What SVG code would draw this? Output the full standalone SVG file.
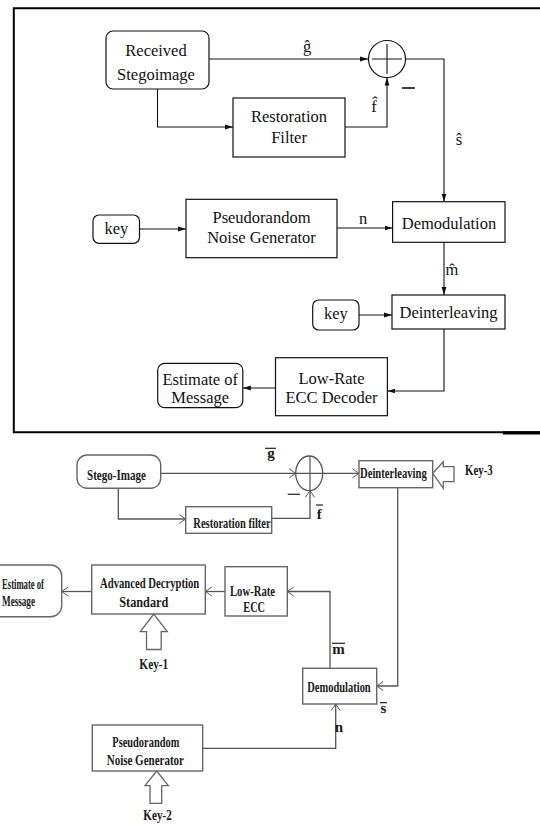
<svg xmlns="http://www.w3.org/2000/svg" width="540" height="825" viewBox="0 0 540 825">
<style>
.t{font-family:"Liberation Serif","Times New Roman",serif;font-size:16.5px;fill:#111;text-anchor:middle}
.tb{font-family:"Liberation Serif","Times New Roman",serif;font-size:15px;font-weight:bold;fill:#1a1a1a}
.bx{fill:#fff;stroke:#111;stroke-width:1.2}
.bx2{fill:#fff;stroke:#666;stroke-width:1.4}
.ln{fill:none;stroke:#111;stroke-width:1.1}
.ln2{fill:none;stroke:#555;stroke-width:1.3}
.ov{stroke:#222;stroke-width:1.2}
</style>
<defs>
<marker id="tri" markerWidth="8" markerHeight="6" refX="8" refY="3" orient="auto" markerUnits="userSpaceOnUse"><path d="M0,0.6 L8,3 L0,5.4 z" fill="#111"/></marker>
<marker id="chev" markerWidth="8" markerHeight="10" refX="7" refY="5" orient="auto" markerUnits="userSpaceOnUse" overflow="visible"><path d="M0.5,0.5 L7,5 L0.5,9.5" fill="none" stroke="#555" stroke-width="1"/></marker>
</defs>
<rect width="540" height="825" fill="#fff"/>

<!-- frame -->
<g id="frame">
<path d="M540,8.3 H13.8 V432.3 H540" fill="none" stroke="#000" stroke-width="2"/>
<rect x="503" y="431.3" width="37" height="3.2" fill="#000"/>
</g>

<!-- top connectors -->
<g id="connectors-top">
<path class="ln" d="M209,59 H368" marker-end="url(#tri)"/>
<path class="ln" d="M157.5,89 V127 H233" marker-end="url(#tri)"/>
<path class="ln" d="M345,127 H387 V77.5" marker-end="url(#tri)"/>
<path class="ln" d="M406,59 H444 V201.7" marker-end="url(#tri)"/>
<path class="ln" d="M139.5,229 H186" marker-end="url(#tri)"/>
<path class="ln" d="M337,228 H392.6" marker-end="url(#tri)"/>
<path class="ln" d="M444,242.3 V295" marker-end="url(#tri)"/>
<path class="ln" d="M359,315 H392" marker-end="url(#tri)"/>
<path class="ln" d="M444,329 V391 H387.4" marker-end="url(#tri)"/>
<path class="ln" d="M275.5,388 H242.8" marker-end="url(#tri)"/>
<text class="t" x="307" y="52">ĝ</text>
<text class="t" x="374" y="112">f̂</text>
<line x1="402" y1="88" x2="415" y2="88" stroke="#111" stroke-width="1.6"/>
<text class="t" x="459" y="145">ŝ</text>
<text class="t" x="363" y="224">n</text>
<text class="t" x="452" y="275">m̂</text>
</g>

<!-- top nodes -->
<g id="received-stegoimage">
<rect class="bx" x="106" y="31" width="103" height="58" rx="7"/>
<text class="t" x="156" y="56">Received</text>
<text class="t" x="156" y="80">Stegoimage</text>
</g>
<g id="sum-top">
<circle cx="387" cy="59" r="18.5" fill="#fff" stroke="#111" stroke-width="1.2"/>
<path d="M387,44 V74 M372,59 H402" stroke="#111" stroke-width="1.1"/>
</g>
<g id="restoration-filter">
<rect class="bx" x="233" y="98" width="112" height="59"/>
<text class="t" x="289" y="122">Restoration</text>
<text class="t" x="289" y="143">Filter</text>
</g>
<g id="key-top-1">
<rect class="bx" x="93" y="215" width="46.5" height="28.3" rx="6"/>
<text class="t" x="116.3" y="234">key</text>
</g>
<g id="prng-top">
<rect class="bx" x="186" y="199.3" width="151" height="58.4"/>
<text class="t" x="261.5" y="223">Pseudorandom</text>
<text class="t" x="261.5" y="242.5">Noise Generator</text>
</g>
<g id="demodulation-top">
<rect class="bx" x="392.6" y="201.7" width="112.4" height="40.6"/>
<text class="t" x="449" y="229">Demodulation</text>
</g>
<g id="key-top-2">
<rect class="bx" x="312.7" y="300" width="46.3" height="30" rx="6"/>
<text class="t" x="335.8" y="319">key</text>
</g>
<g id="deinterleaving-top">
<rect class="bx" x="392" y="295" width="113" height="34"/>
<text class="t" x="448.5" y="318">Deinterleaving</text>
</g>
<g id="lowrate-top">
<rect class="bx" x="275.5" y="357.7" width="111.9" height="58"/>
<text class="t" x="331.5" y="384">Low-Rate</text>
<text class="t" x="331.5" y="403">ECC Decoder</text>
</g>
<g id="estimate-top">
<rect class="bx" x="157.7" y="363.3" width="85.1" height="44.4" rx="7"/>
<text class="t" x="200.2" y="385">Estimate of</text>
<text class="t" x="200.2" y="402.5">Message</text>
</g>

<!-- bottom connectors -->
<g id="connectors-bottom">
<path class="ln2" d="M160.7,473.3 H295.7" marker-end="url(#chev)"/>
<path class="ln2" d="M118.3,488.3 V519 H185.7" marker-end="url(#chev)"/>
<path class="ln2" d="M271.7,518.3 H310 V490.7" marker-end="url(#chev)"/>
<path class="ln2" d="M322.7,473.3 H359" marker-end="url(#chev)"/>
<path class="ln2" d="M397.7,487.7 V686 H376.7" marker-end="url(#chev)"/>
<path class="ln2" d="M330,668.3 V591.5 H287.3" marker-end="url(#chev)"/>
<path class="ln2" d="M225,591.5 H205.3" marker-end="url(#chev)"/>
<path class="ln2" d="M91.7,591.5 H61.7" marker-end="url(#chev)"/>
<path class="ln2" d="M202.7,748.3 H335.7 V704" marker-end="url(#chev)"/>
<text class="tb" x="271" y="457.5" text-anchor="middle">g</text>
<line class="ov" x1="265" y1="448.3" x2="276" y2="448.3"/>
<line x1="287.7" y1="494.3" x2="300" y2="494.3" stroke="#333" stroke-width="1.3"/>
<text class="tb" x="319.2" y="518.5" text-anchor="middle">f</text>
<line class="ov" x1="316" y1="505" x2="323" y2="505"/>
<text class="tb" x="338.5" y="654" text-anchor="middle">m</text>
<line class="ov" x1="332" y1="643.3" x2="345" y2="643.3"/>
<text class="tb" x="383.5" y="713" text-anchor="middle">s</text>
<line class="ov" x1="380" y1="702.7" x2="387" y2="702.7"/>
<text class="tb" x="339" y="732" text-anchor="middle">n</text>
</g>

<!-- bottom nodes -->
<g id="stego-image">
<rect class="bx2" x="77" y="455" width="83.7" height="33.3" rx="10"/>
<text class="tb" x="87" y="479.5" textLength="59" lengthAdjust="spacingAndGlyphs">Stego-Image</text>
</g>
<g id="sum-bottom">
<ellipse cx="309.2" cy="473.3" rx="13.5" ry="17.3" fill="#fff" stroke="#555" stroke-width="1.3"/>
<path d="M310,456 V490.7 M295.7,473.3 H322.7" stroke="#555" stroke-width="1.2"/>
</g>
<g id="restoration-filter-bottom">
<rect class="bx2" x="185.7" y="506.7" width="86" height="26.6"/>
<text class="tb" x="193.3" y="527.5" textLength="77.4" lengthAdjust="spacingAndGlyphs">Restoration filter</text>
</g>
<g id="deinterleaving-bottom">
<rect class="bx2" x="359" y="460.7" width="73.7" height="27"/>
<text class="tb" x="360" y="478" textLength="66.7" lengthAdjust="spacingAndGlyphs">Deinterleaving</text>
</g>
<g id="key-3">
<polygon points="432.7,473.3 443.3,461.7 443.3,466.7 454,466.7 454,481.7 443.3,481.7 443.3,488.3" fill="#fff" stroke="#666" stroke-width="1.3"/>
<text class="tb" x="465" y="475" textLength="27.7" lengthAdjust="spacingAndGlyphs">Key-3</text>
</g>
<g id="estimate-bottom">
<rect class="bx2" x="-30" y="565" width="91.7" height="51.7" rx="11"/>
<text class="tb" x="44" y="588.5" text-anchor="end" textLength="42" lengthAdjust="spacingAndGlyphs">Estimate of</text>
<text class="tb" x="35" y="606" text-anchor="end" textLength="33" lengthAdjust="spacingAndGlyphs">Message</text>
</g>
<g id="aes">
<rect class="bx2" x="91.7" y="565" width="113.6" height="49"/>
<text class="tb" x="100" y="587.5" textLength="99.3" lengthAdjust="spacingAndGlyphs">Advanced Decryption</text>
<text class="tb" x="119.3" y="607" textLength="49" lengthAdjust="spacingAndGlyphs">Standard</text>
</g>
<g id="key-1">
<polygon points="153.8,614 140.3,631.7 146.5,631.7 146.5,649.5 161.2,649.5 161.2,631.7 167.3,631.7" fill="#fff" stroke="#666" stroke-width="1.3"/>
<text class="tb" x="139.3" y="668.5" textLength="29" lengthAdjust="spacingAndGlyphs">Key-1</text>
</g>
<g id="low-rate-ecc">
<rect class="bx2" x="225" y="566.7" width="62.3" height="49.3"/>
<text class="tb" x="230" y="595.5" textLength="45" lengthAdjust="spacingAndGlyphs">Low-Rate</text>
<text class="tb" x="243.3" y="612" textLength="21.7" lengthAdjust="spacingAndGlyphs">ECC</text>
</g>
<g id="demodulation-bottom">
<rect class="bx2" x="302.7" y="668.3" width="74" height="35.7"/>
<text class="tb" x="307.3" y="692" textLength="63.4" lengthAdjust="spacingAndGlyphs">Demodulation</text>
</g>
<g id="prng-bottom">
<rect class="bx2" x="92.3" y="725" width="110.4" height="46"/>
<text class="tb" x="112.3" y="747" textLength="67" lengthAdjust="spacingAndGlyphs">Pseudorandom</text>
<text class="tb" x="106.7" y="764.5" textLength="77.3" lengthAdjust="spacingAndGlyphs">Noise Generator</text>
</g>
<g id="key-2">
<polygon points="156.7,771 145,785.7 150,785.7 150,803.3 161.7,803.3 161.7,785.7 168.3,785.7" fill="#fff" stroke="#666" stroke-width="1.3"/>
<text class="tb" x="143.3" y="820" textLength="28.4" lengthAdjust="spacingAndGlyphs">Key-2</text>
</g>
</svg>
